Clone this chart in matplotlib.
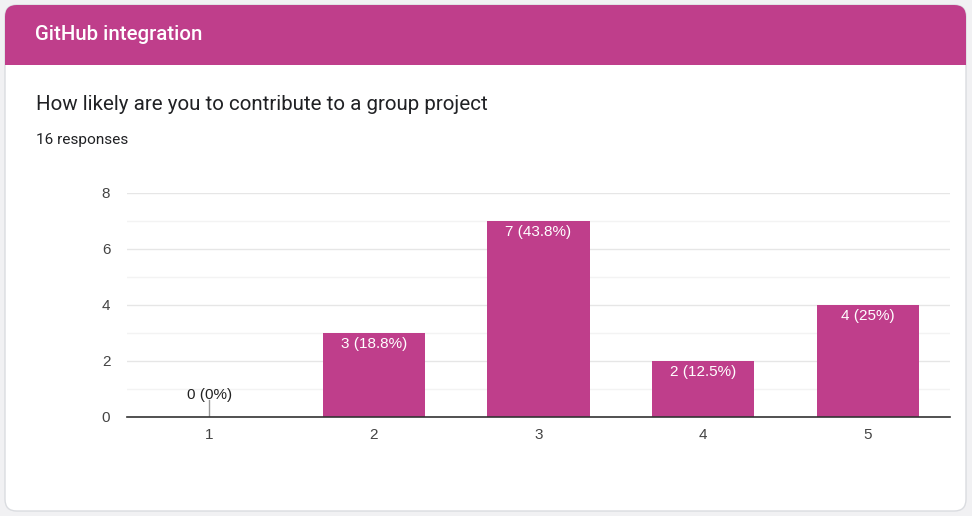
import numpy as np
import matplotlib.pyplot as plt
from matplotlib.patches import FancyBboxPatch, Rectangle

plt.rcParams["font.family"] = ["Roboto", "DejaVu Sans"]

# data
categories = ["1", "2", "3", "4", "5"]
counts = [0, 3, 7, 2, 4]
total = 16
labels = ["0 (0%)", "3 (18.8%)", "7 (43.8%)", "2 (12.5%)", "4 (25%)"]

W, H = 972, 516
magenta = "#BF3E8B"
chart_font = ["Liberation Sans", "DejaVu Sans"]

fig = plt.figure(figsize=(W / 100, H / 100), dpi=100)
fig.patch.set_facecolor("#F1F1F3")

def fx(px):
    return px / W

def fy(py):
    return 1 - py / H

# card
card = FancyBboxPatch((fx(5), fy(511)), fx(961), 506 / H,
                      boxstyle="round,pad=0,rounding_size=0.012",
                      transform=fig.transFigure, facecolor="white",
                      edgecolor="#DADCE0", linewidth=1, mutation_aspect=W / H,
                      zorder=-3)
fig.patches.append(card)
header = FancyBboxPatch((fx(5), fy(65)), fx(961), 60 / H,
                        boxstyle="round,pad=0,rounding_size=0.012",
                        transform=fig.transFigure, facecolor=magenta,
                        edgecolor="none", mutation_aspect=W / H, zorder=-2)
fig.patches.append(header)
fig.patches.append(Rectangle((fx(5), fy(65)), fx(961), 20 / H,
                             transform=fig.transFigure, facecolor=magenta,
                             edgecolor="none", zorder=-2))

fig.text(fx(35), fy(35), "GitHub integration", color="white", fontsize=14.7,
         va="center", ha="left", fontweight="medium")
fig.text(fx(36), fy(104), "How likely are you to contribute to a group project",
         color="#202124", fontsize=14.8, va="center", ha="left")
fig.text(fx(36), fy(140), f"{total} responses", color="#202124", fontsize=11.1,
         va="center", ha="left")

# plot area
ax = fig.add_axes([fx(127), fy(417), fx(950 - 127), (417 - 193) / H])
ax.set_zorder(5)
ax.set_facecolor("none")
x = np.arange(len(categories))
ax.bar(x, counts, width=0.62, color=magenta, zorder=3)
ax.set_xlim(-0.5, 4.5)
ax.set_ylim(0, 8)
ax.set_yticks([0, 2, 4, 6, 8])
ax.set_yticks([1, 3, 5, 7], minor=True)
ax.set_xticks(x)
ax.set_xticklabels(categories)
ax.grid(axis="y", which="major", color="#E6E6E6", linewidth=1, zorder=0)
ax.grid(axis="y", which="minor", color="#F3F3F3", linewidth=1, zorder=0)
ax.tick_params(axis="both", which="both", length=0, labelsize=11,
               colors="#444444")
ax.tick_params(axis="x", pad=8)
ax.tick_params(axis="y", pad=12)
for t in ax.get_xticklabels() + ax.get_yticklabels():
    t.set_fontfamily(chart_font)
for s in ["top", "right", "left"]:
    ax.spines[s].set_visible(False)
ax.spines["bottom"].set_color("#333333")
ax.spines["bottom"].set_linewidth(1.2)
ax.spines["bottom"].set_zorder(4)

for xi, c, lab in zip(x, counts, labels):
    if c == 0:
        ax.plot([xi, xi], [0, 0.6], color="#999999", linewidth=1, zorder=4)
        ax.text(xi, 0.8, lab, ha="center", va="center", fontsize=11,
                color="#222222", family=chart_font)
    else:
        ax.text(xi, c - 0.4, lab, ha="center", va="center", fontsize=11,
                color="white", zorder=5, family=chart_font)

fig.savefig("out.png", dpi=100, facecolor=fig.get_facecolor())
